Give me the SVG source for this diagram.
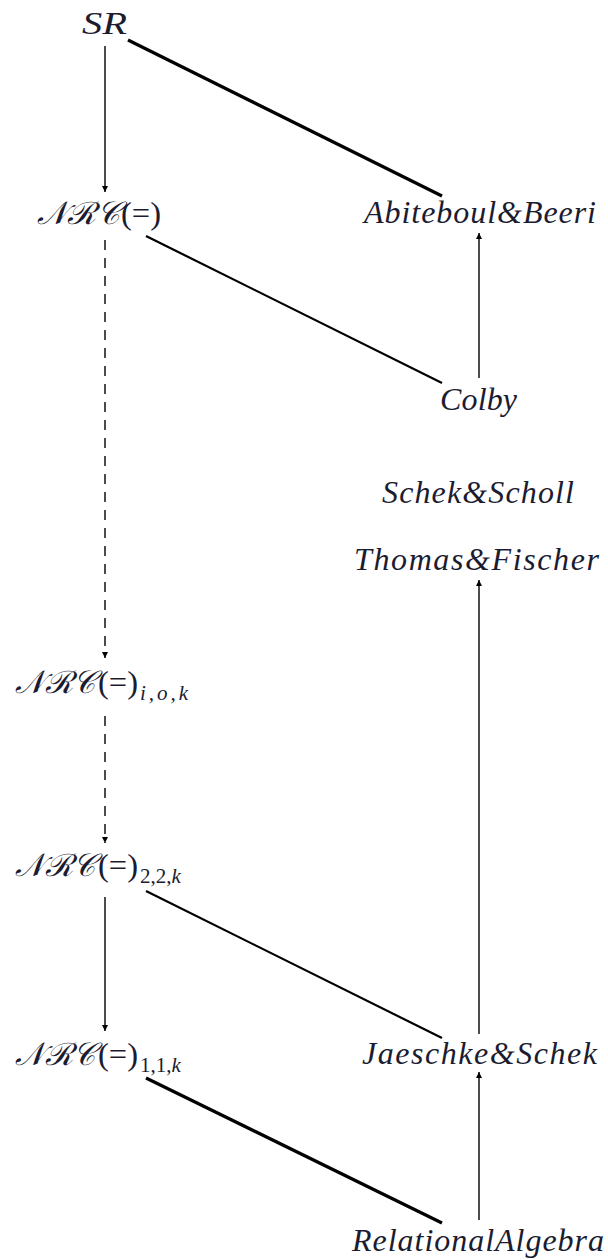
<svg xmlns="http://www.w3.org/2000/svg" width="608" height="1260" viewBox="0 0 608 1260">
<style>
.t{font-family:"Liberation Serif","Times New Roman",serif;font-style:italic;font-size:32px;fill:#1c1c30}
.u{font-style:normal}
.s{font-size:21px}
.ar{stroke:#000;stroke-width:1.4;fill:none}
.ln{stroke:#000;stroke-width:2.2;fill:none}
.lt{stroke:#000;stroke-width:3.2;fill:none}
.da{stroke-dasharray:10,8}
</style>
<defs>
<marker id="ah" viewBox="0 0 10 10" refX="10" refY="5" markerWidth="6" markerHeight="9" orient="auto" markerUnits="userSpaceOnUse">
<path d="M0,0 L10,5 L0,10 z" fill="#000"/>
</marker>
</defs>
<rect width="608" height="1260" fill="#fff"/>
<g id="connectors">
<line class="ar" x1="105" y1="46" x2="105" y2="192" marker-end="url(#ah)"/>
<line class="lt" x1="128" y1="40" x2="442" y2="196"/>
<line class="ln" x1="146" y1="236" x2="442" y2="383"/>
<line class="ar" x1="479" y1="378" x2="479" y2="233" marker-end="url(#ah)"/>
<line class="ar da" x1="105" y1="240" x2="105" y2="658" marker-end="url(#ah)"/>
<line class="ar da" x1="105" y1="716" x2="105" y2="843" marker-end="url(#ah)"/>
<line class="ar" x1="105" y1="897" x2="105" y2="1031" marker-end="url(#ah)"/>
<line class="ln" x1="146" y1="891" x2="442" y2="1038"/>
<line class="lt" x1="146" y1="1078" x2="442" y2="1223"/>
<line class="ar" x1="479" y1="1034" x2="479" y2="580" marker-end="url(#ah)"/>
<line class="ar" x1="479" y1="1220" x2="479" y2="1072" marker-end="url(#ah)"/>
</g>
<g id="SR"><text class="t" x="82" y="34" textLength="45" lengthAdjust="spacingAndGlyphs">SR</text></g>
<g id="NRC"><text class="t" y="224"><tspan x="37" textLength="82" lengthAdjust="spacingAndGlyphs">𝒩ℛ𝒞</tspan><tspan class="u" x="121" textLength="40" lengthAdjust="spacingAndGlyphs">(=)</tspan></text></g>
<g id="AB"><text class="t" x="364" y="223" textLength="232" lengthAdjust="spacing">Abiteboul&amp;Beeri</text></g>
<g id="Colby"><text class="t" x="440" y="410" textLength="77" lengthAdjust="spacing">Colby</text></g>
<g id="SS"><text class="t" x="382" y="503" textLength="192" lengthAdjust="spacing">Schek&amp;Scholl</text></g>
<g id="TF"><text class="t" x="354" y="570" textLength="245" lengthAdjust="spacing">Thomas&amp;Fischer</text></g>
<g id="NRCiok"><text class="t" y="693"><tspan x="15" textLength="80" lengthAdjust="spacingAndGlyphs">𝒩ℛ𝒞</tspan><tspan class="u" x="98" textLength="40" lengthAdjust="spacingAndGlyphs">(=)</tspan><tspan class="s" x="140" dy="7" textLength="48" lengthAdjust="spacing">i,o,k</tspan></text></g>
<g id="NRC22k"><text class="t" y="876"><tspan x="15" textLength="80" lengthAdjust="spacingAndGlyphs">𝒩ℛ𝒞</tspan><tspan class="u" x="98" textLength="40" lengthAdjust="spacingAndGlyphs">(=)</tspan><tspan class="s u" x="140" dy="7">2,2,</tspan><tspan class="s">k</tspan></text></g>
<g id="NRC11k"><text class="t" y="1065"><tspan x="15" textLength="80" lengthAdjust="spacingAndGlyphs">𝒩ℛ𝒞</tspan><tspan class="u" x="98" textLength="40" lengthAdjust="spacingAndGlyphs">(=)</tspan><tspan class="s u" x="140" dy="7">1,1,</tspan><tspan class="s">k</tspan></text></g>
<g id="JS"><text class="t" x="362" y="1064" textLength="235" lengthAdjust="spacing">Jaeschke&amp;Schek</text></g>
<g id="RA"><text class="t" x="352" y="1251" textLength="252" lengthAdjust="spacing">RelationalAlgebra</text></g>
</svg>
